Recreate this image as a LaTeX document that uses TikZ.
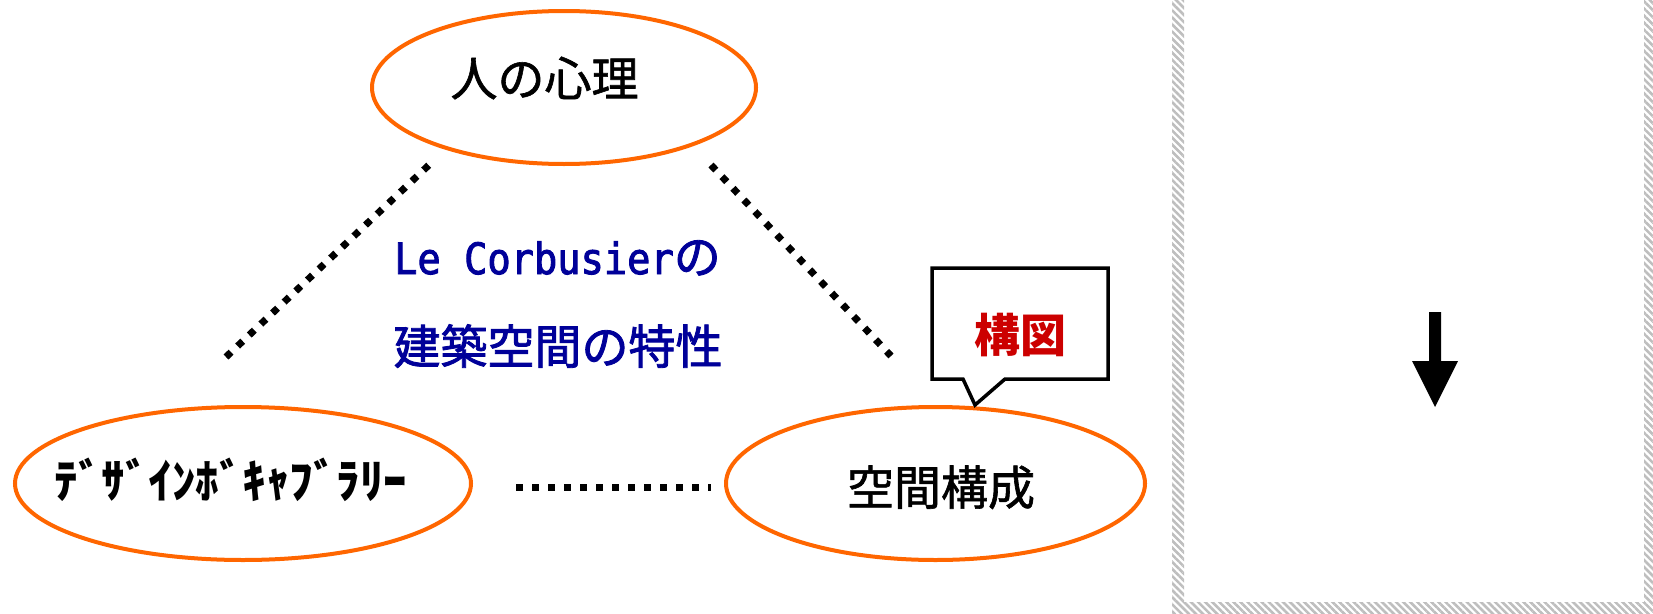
\documentclass[tikz,border=0pt]{standalone}
\usepackage{fontspec}
\newfontfamily\jp{Noto Sans CJK JP}
\newfontfamily\jpmed[FakeBold=1.3]{Noto Sans CJK JP}
\newfontfamily\jpblue[FakeBold=1.8]{Noto Sans CJK JP}
\newfontfamily\monofont[FakeBold=2.2,FakeStretch=0.9]{DejaVu Sans Mono}
\usetikzlibrary{shapes.geometric,patterns.meta}
\definecolor{ellorange}{RGB}{255,102,0}
\definecolor{textblue}{RGB}{0,0,153}
\definecolor{textred}{RGB}{204,0,0}
\definecolor{stripegray}{RGB}{190,190,190}
\tikzset{
  oval/.style={ellipse, draw=ellorange, line width=4pt, inner sep=0pt},
  dotline/.style={line width=7pt, dash pattern=on 7pt off 9pt},
  jplabel/.style={font=\jpmed\fontsize{47}{56}\selectfont, inner sep=0pt, anchor=base},
  bluelabel/.style={jplabel, font=\jpblue\fontsize{47}{56}\selectfont, text=textblue},
  calloutbox/.style={draw=black, line width=3.5pt, line join=miter, fill=white},
  hatchframe/.style={pattern={Lines[angle=-45,distance=5pt,line width=2.6pt]}, pattern color=stripegray},
}
\begin{document}
\begin{tikzpicture}[x=1pt,y=-1pt]
\useasboundingbox (0,0) rectangle (1653,613);
\begin{scope}
\clip (0,0) rectangle (1653,613);
% right panel with hatched frame
\fill[hatchframe, even odd rule] (1172,-20) rectangle (1670,625) (1184,-20) rectangle (1644,602);
\end{scope}

% ellipses
\node[oval, minimum width=384pt, minimum height=153pt] (psy) at (564,87.5) {};
\node[oval, minimum width=456pt, minimum height=153pt] (design) at (243,483.5) {};
\node[oval, minimum width=419pt, minimum height=153pt] (space) at (935.5,483.5) {};

% ellipse texts
\node[jplabel] (psytext) at (544.5,96) {人の心理};
\node[jplabel, font=\jp\bfseries\fontsize{47}{56}\selectfont] (designtext) at (231,498) {ﾃﾞｻﾞｲﾝﾎﾞｷｬﾌﾞﾗﾘｰ};
\node[jplabel] (spacetext) at (941,505) {空間構成};

% central blue text
\node[bluelabel] (blue1) at (557.5,274) {{\monofont\fontsize{43}{50}\selectfont Le Corbusier}の};
\node[bluelabel] (blue2) at (558,364) {建築空間の特性};

% dotted connectors
\coordinate (ldA) at (226,357);
\coordinate (ldB) at (430,164);
\coordinate (rdA) at (711,165);
\coordinate (rdB) at (891,356);
\coordinate (hdA) at (516,487);
\coordinate (hdB) at (711,487);
\draw[dotline] (ldA) -- (ldB);
\draw[dotline] (rdA) -- (rdB);
\draw[dotline] (hdA) -- (hdB);

% callout
\draw[calloutbox] (932,268) -- (1108,268) -- (1108,379) -- (1005,379) -- (975,405) -- (963,379) -- (932,379) -- cycle;
\node[jplabel, font=\jp\bfseries\fontsize{46}{55}\selectfont, text=textred] (callouttext) at (1020,352.5) {構図};

% down arrow
\fill[black] (1429,312) -- (1441,312) -- (1441,361) -- (1458,361) -- (1435,407) -- (1412,361) -- (1429,361) -- cycle;
\end{tikzpicture}
\end{document}
